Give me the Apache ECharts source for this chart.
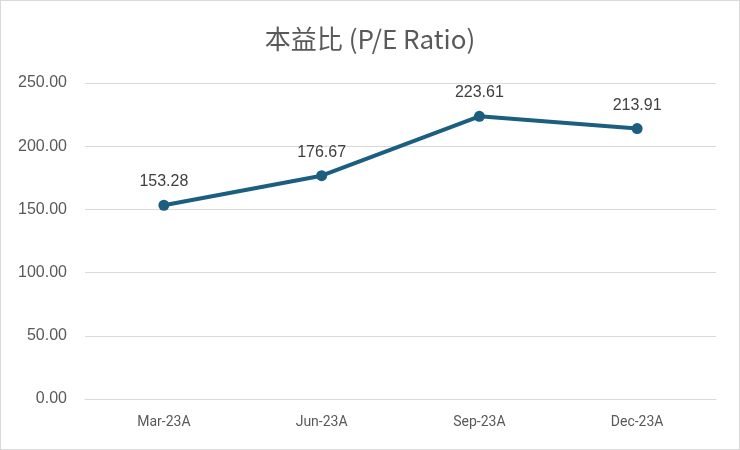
<!DOCTYPE html>
<html><head><meta charset="utf-8">
<script src="https://cdn.jsdelivr.net/npm/echarts@6/dist/echarts.min.js"></script>
<style>html,body{margin:0;padding:0;background:#fff}#c{width:740px;height:450px;box-sizing:border-box;border:1px solid #d9d9d9}</style>
</head><body><div id="c"></div>
<script>
const categories = ['Mar-23A', 'Jun-23A', 'Sep-23A', 'Dec-23A'];
const peValues = [153.28, 176.67, 223.61, 213.91];
const chartTitle = '本益比 (P/E Ratio)';

const chart = echarts.init(document.getElementById('c'));
chart.setOption({
  animation: false,
  title: {
    text: chartTitle, left: 'center', top: 20,
    textStyle: {fontFamily: '"Noto Sans CJK TC","Noto Sans", sans-serif', fontSize: 26, fontWeight: 'normal', color: '#595959'}
  },
  grid: {left: 84, right: 23, top: 82, bottom: 50},
  xAxis: {
    type: 'category', data: categories, boundaryGap: true,
    axisLine: {show: true, lineStyle: {color: '#d9d9d9'}},
    axisTick: {show: false},
    axisLabel: {fontFamily: 'Roboto, sans-serif', fontSize: 14, color: '#595959', margin: 16}
  },
  yAxis: {
    type: 'value', min: 0, max: 250, interval: 50,
    axisLine: {show: false}, axisTick: {show: false},
    splitLine: {lineStyle: {color: '#d9d9d9'}},
    axisLabel: {fontFamily: 'Liberation Sans, sans-serif', fontSize: 16, color: '#595959', margin: 18,
      formatter: v => v.toFixed(2)}
  },
  series: [{
    type: 'line', data: peValues,
    symbol: 'circle', symbolSize: 11,
    lineStyle: {color: '#1b5e7f', width: 4},
    itemStyle: {color: '#1b5e7f'},
    label: {show: true, position: 'top', distance: 10,
      fontFamily: 'Liberation Sans, sans-serif', fontSize: 16, color: '#404040',
      formatter: p => p.value.toFixed(2)}
  }]
});
</script></body></html>
